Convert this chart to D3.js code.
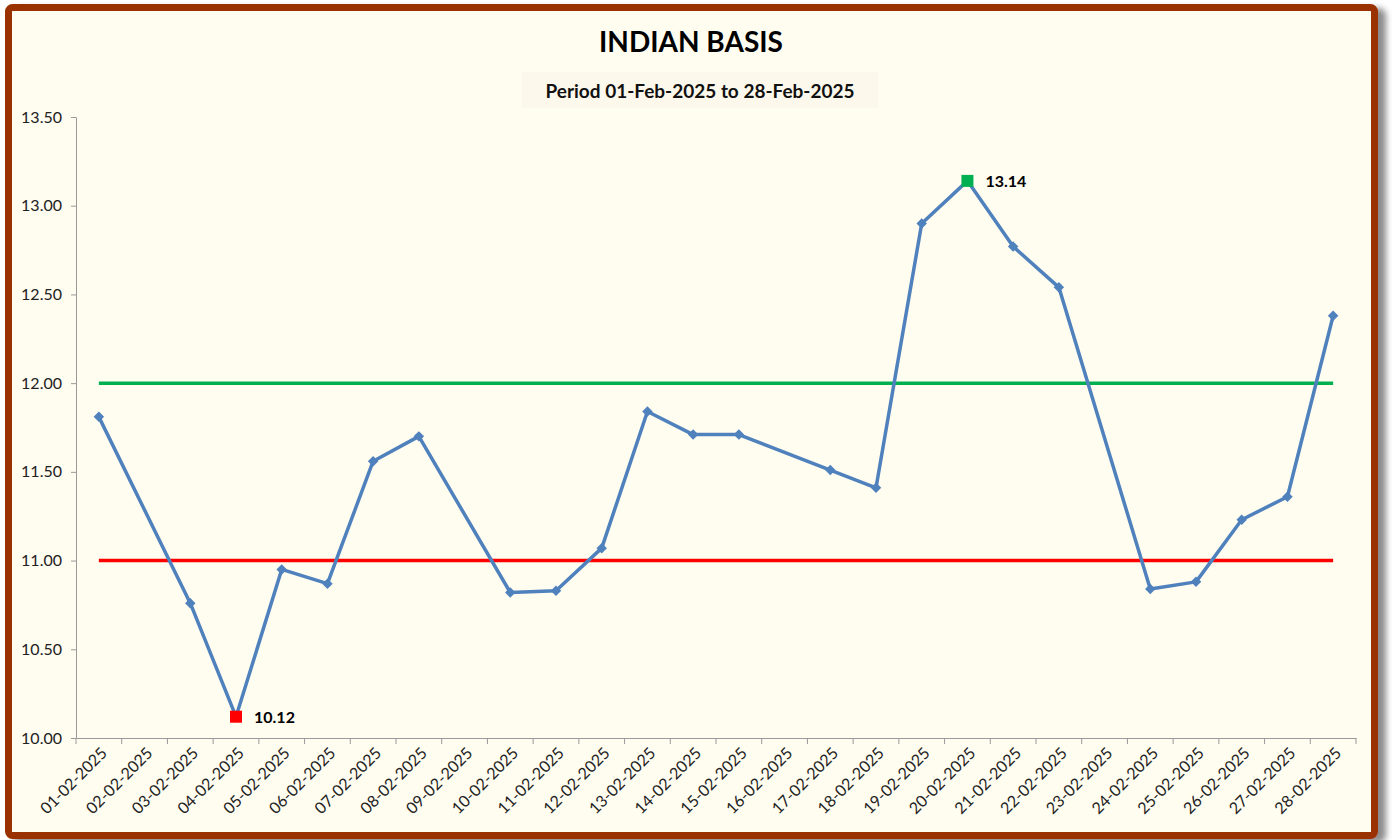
<!DOCTYPE html>
<html>
<head>
<meta charset="utf-8">
<script src="https://cdn.jsdelivr.net/npm/d3@7"></script>
<style>
  body { margin: 0; background: #ffffff; }
  svg { display: block; font-family: Lato, "Open Sans", sans-serif; }
</style>
</head>
<body>
<div id="chart"></div>
<script>
const dates = [
  "01-02-2025", "02-02-2025", "03-02-2025", "04-02-2025", "05-02-2025", "06-02-2025", "07-02-2025",
  "08-02-2025", "09-02-2025", "10-02-2025", "11-02-2025", "12-02-2025", "13-02-2025", "14-02-2025",
  "15-02-2025", "16-02-2025", "17-02-2025", "18-02-2025", "19-02-2025", "20-02-2025", "21-02-2025",
  "22-02-2025", "23-02-2025", "24-02-2025", "25-02-2025", "26-02-2025", "27-02-2025", "28-02-2025"
];
// null = no quote that day (line joins over the gap)
const basis = [
  11.81, null, 10.76, 10.12, 10.95, 10.87, 11.56,
  11.70, null, 10.82, 10.83, 11.07, 11.84, 11.71,
  11.71, null, 11.51, 11.41, 12.90, 13.14, 12.77,
  12.54, null, 10.84, 10.88, 11.23, 11.36, 12.38
];
const yTicks = [10.0, 10.5, 11.0, 11.5, 12.0, 12.5, 13.0, 13.5];
const upperLine = 12.0;
const lowerLine = 11.0;

const W = 1392, H = 840;
const margin = { left: 76, right: 36, top: 117, bottom: 102 };

const svg = d3.select("#chart").append("svg").attr("width", W).attr("height", H);

// shadow + frame
const defs = svg.append("defs");
const f = defs.append("filter").attr("id", "shadow").attr("x", "-5%").attr("y", "-5%").attr("width", "115%").attr("height", "115%");
f.append("feDropShadow").attr("dx", 8).attr("dy", 4).attr("stdDeviation", 3).attr("flood-color", "#000").attr("flood-opacity", 0.45);

svg.append("rect")
  .attr("x", 8.5).attr("y", 7.5).attr("width", 1366).attr("height", 828)
  .attr("rx", 4)
  .attr("fill", "#fffcf0")
  .attr("stroke", "#993300")
  .attr("stroke-width", 7)
  .attr("filter", "url(#shadow)");

// title
svg.append("text")
  .attr("x", 691).attr("y", 52)
  .attr("text-anchor", "middle")
  .attr("font-size", 28).attr("font-weight", "bold").attr("fill", "#000")
  .text("INDIAN BASIS");

svg.append("rect")
  .attr("x", 522).attr("y", 72).attr("width", 356).attr("height", 36)
  .attr("fill", "#fcf9ec");
svg.append("text")
  .attr("x", 700).attr("y", 98)
  .attr("text-anchor", "middle")
  .attr("font-size", 19).attr("font-weight", "bold").attr("fill", "#111")
  .text("Period 01-Feb-2025 to 28-Feb-2025");

const x = d3.scaleBand().domain(dates).range([margin.left, W - margin.right]);
const y = d3.scaleLinear().domain([10, 13.5]).range([H - margin.bottom, margin.top]);

// y axis
const yAxis = svg.append("g")
  .attr("transform", `translate(${margin.left},0)`)
  .call(d3.axisLeft(y).tickValues(yTicks).tickFormat(d3.format(".2f")).tickSize(5).tickSizeOuter(0));
yAxis.select(".domain").attr("stroke", "#999");
yAxis.selectAll(".tick line").attr("stroke", "#999");
yAxis.selectAll(".tick text").attr("font-size", 16).attr("fill", "#222").attr("font-family", "Lato, sans-serif").attr("x", -14);

// x axis: ticks at category boundaries
const xAxis = svg.append("g")
  .attr("transform", `translate(0,${H - margin.bottom})`)
  .call(d3.axisBottom(x).tickSize(0).tickSizeOuter(0));
xAxis.select(".domain").attr("stroke", "#999");
xAxis.selectAll(".tick text")
  .attr("font-size", 16).attr("fill", "#222").attr("font-family", "Lato, sans-serif")
  .attr("text-anchor", "end")
  .attr("dy", 0)
  .attr("transform", "translate(7,14) rotate(-45)");
const bounds = dates.map(d => x(d)).concat([x(dates[dates.length - 1]) + x.bandwidth()]);
xAxis.selectAll(".bound").data(bounds).enter().append("line")
  .attr("x1", d => d).attr("x2", d => d)
  .attr("y1", 0).attr("y2", 6)
  .attr("stroke", "#999");

// reference lines
const cx = d => x(d) + x.bandwidth() / 2;
[[upperLine, "#00b050"], [lowerLine, "#ff0000"]].forEach(([v, c]) => {
  svg.append("line")
    .attr("x1", cx(dates[0])).attr("x2", cx(dates[dates.length - 1]))
    .attr("y1", y(v)).attr("y2", y(v))
    .attr("stroke", c).attr("stroke-width", 3.5);
});

// series
const pts = dates.map((d, i) => ({ date: d, v: basis[i] })).filter(p => p.v !== null);
svg.append("path")
  .datum(pts)
  .attr("fill", "none")
  .attr("stroke", "#4f81bd")
  .attr("stroke-width", 3.5)
  .attr("stroke-linejoin", "round")
  .attr("d", d3.line().x(p => cx(p.date)).y(p => y(p.v)));

const maxP = pts.reduce((a, b) => (b.v > a.v ? b : a));
const minP = pts.reduce((a, b) => (b.v < a.v ? b : a));

svg.selectAll(".mk").data(pts.filter(p => p !== maxP && p !== minP)).enter().append("path")
  .attr("d", d3.symbol(d3.symbolDiamond2, 70))
  .attr("transform", p => `translate(${cx(p.date)},${y(p.v)})`)
  .attr("fill", "#4f81bd");

[[maxP, "#00b050"], [minP, "#ff0000"]].forEach(([p, c]) => {
  svg.append("rect")
    .attr("x", cx(p.date) - 6).attr("y", y(p.v) - 6)
    .attr("width", 12).attr("height", 12)
    .attr("fill", c);
  svg.append("text")
    .attr("x", cx(p.date) + 18).attr("y", y(p.v) + 6)
    .attr("font-size", 16).attr("font-weight", "bold").attr("fill", "#000")
    .text(p.v.toFixed(2));
});
</script>
</body>
</html>
